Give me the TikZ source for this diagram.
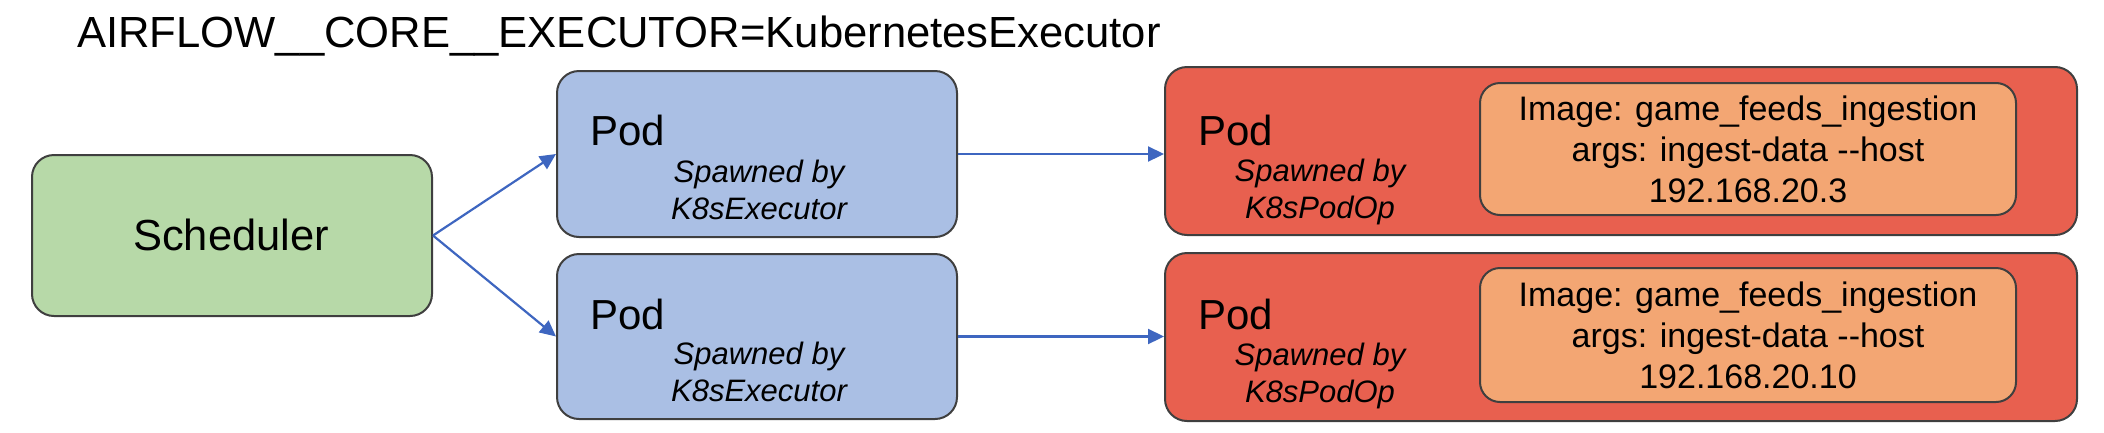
\documentclass[tikz,border=0pt]{standalone}
\usepackage{fontspec}
\setmainfont{Liberation Sans}
\usetikzlibrary{arrows.meta}
\definecolor{gfill}{HTML}{B7D9A8}
\definecolor{bfill}{HTML}{AABFE4}
\definecolor{rfill}{HTML}{E8604F}
\definecolor{ofill}{HTML}{F3A673}
\definecolor{bord}{HTML}{3F3F3F}
\definecolor{arr}{HTML}{3E66C0}
\tikzset{
  box/.style={draw=bord, line width=2pt, rounded corners=22pt, inner sep=0pt},
  inbox/.style={draw=bord, line width=2pt, rounded corners=20pt, inner sep=0pt, fill=ofill},
  big/.style={font=\fontsize{42}{50}\selectfont, inner sep=0pt},
  ital/.style={font=\fontsize{31}{37}\selectfont\itshape, align=center, inner sep=0pt},
  img/.style={font=\fontsize{34}{41}\selectfont, align=center, inner sep=0pt},
  conn/.style={draw=arr, line width=2.2pt, -{Triangle[length=16pt,width=15pt]}}
}
\begin{document}
\begin{tikzpicture}[x=1pt,y=-1pt]
\useasboundingbox (0,0) rectangle (2104,432);
\node[anchor=base west, inner sep=0pt, font=\fontsize{43.6}{50}\selectfont] (title) at (77,47) {AIRFLOW\_\_CORE\_\_EXECUTOR=KubernetesExecutor};
% scheduler
\node[box, fill=gfill, minimum width=400pt, minimum height=161pt] (sched) at (232,235.5) {};
\node[big, font=\fontsize{43.5}{50}\selectfont] (schedt) at (231,235) {Scheduler};
% blue pods
\node[box, fill=bfill, minimum width=400pt, minimum height=166pt] (b1) at (757,154) {};
\node[box, fill=bfill, minimum width=400pt, minimum height=165pt] (b2) at (757,336.5) {};
\node[big, anchor=base west] (b1t) at (590,145) {Pod};
\node[big, anchor=base west] (b2t) at (590,329) {Pod};
\node[ital] (b1s) at (759,190) {Spawned by\\K8sExecutor};
\node[ital] (b2s) at (759,372) {Spawned by\\K8sExecutor};
% red pods
\node[box, fill=rfill, minimum width=912pt, minimum height=168pt] (r1) at (1621,151) {};
\node[box, fill=rfill, minimum width=912pt, minimum height=168pt] (r2) at (1621,337) {};
\node[big, anchor=base west] (r1t) at (1198,145) {Pod};
\node[big, anchor=base west] (r2t) at (1198,329) {Pod};
\node[ital] (r1s) at (1320,192) {Spawned by\\K8sPodOp};
\node[ital] (r2s) at (1320,376) {Spawned by\\K8sPodOp};
% orange inner boxes
\node[inbox, minimum width=536pt, minimum height=132pt] (o1) at (1748,149) {};
\node[inbox, minimum width=536pt, minimum height=134pt] (o2) at (1748,335) {};
\node[img] (o1t) at (1748,149) {Image: game\_feeds\_ingestion\\args: ingest-data {-}{-}host\\192.168.20.3};
\node[img] (o2t) at (1748,335) {Image: game\_feeds\_ingestion\\args: ingest-data {-}{-}host\\192.168.20.10};
% connectors
\draw[conn] (sched.east) -- (b1.west);
\draw[conn] (sched.east) -- (b2.west);
\draw[conn] (b1.east) -- (b1.east -| r1.west);
\draw[conn] (b2.east) -- (b2.east -| r2.west);
\end{tikzpicture}
\end{document}
